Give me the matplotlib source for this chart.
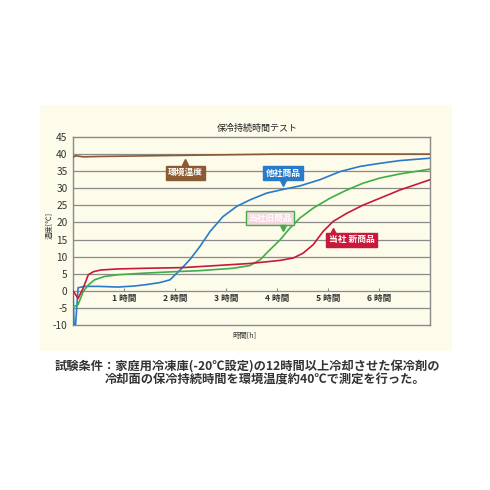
import matplotlib
matplotlib.use("Agg")
import matplotlib.pyplot as plt
from matplotlib.patches import Rectangle

plt.rcParams['font.family'] = ['Noto Sans CJK JP', 'DejaVu Sans']

# ---- data ----
title = "保冷持続時間テスト"
y_ticks = [-10, -5, 0, 5, 10, 15, 20, 25, 30, 35, 40, 45]
hour_ticks = [1, 2, 3, 4, 5, 6]
hour_labels = ["1 時間", "2 時間", "3 時間", "4 時間", "5 時間", "6 時間"]
xlabel = "時間[h]"
ylabel = "温度[℃]"

env_t = [0, 0.05, 0.2, 0.5, 1.0, 1.5, 2.0, 2.5, 3.0, 3.5, 4.0, 5.0, 6.0, 7.0]
env_v = [39.1, 39.5, 39.2, 39.3, 39.4, 39.5, 39.6, 39.7, 39.8, 39.9, 40.0, 40.0, 40.0, 40.0]

other_t = [0, 0.02, 0.05, 0.1, 0.23, 0.5, 0.88, 1.2, 1.43, 1.7, 1.9, 2.1, 2.29, 2.49, 2.69, 2.94, 3.21, 3.47, 3.8, 4.1,
           4.45, 4.84, 5.24, 5.63, 6.02, 6.41, 7.0]
other_v = [0, -10, -10, 0.9, 1.3, 1.3, 1.1, 1.4, 1.8, 2.4, 3.2, 6.1, 9.1, 13.0, 17.4, 21.7, 24.7, 26.6, 28.6, 29.6,
           30.7, 32.5, 34.9, 36.4, 37.3, 38.1, 38.8]

old_t = [0, 0.1, 0.2, 0.3, 0.42, 0.62, 0.88, 1.43, 2.0, 2.49, 3.14, 3.47, 3.67, 3.86, 4.06, 4.25, 4.45, 4.71, 5.04,
         5.37, 5.69, 6.02, 6.41, 7.0]
old_v = [-4.8, -4.0, -0.2, 1.7, 3.2, 4.2, 4.7, 5.2, 5.6, 5.9, 6.6, 7.4, 9.1, 12.0, 14.9, 18.3, 21.3, 24.2, 27.1,
         29.5, 31.5, 33.0, 34.2, 35.6]

new_t = [0, 0.1, 0.2, 0.3, 0.4, 0.55, 0.88, 1.43, 2.16, 2.82, 3.47, 3.8, 4.06, 4.32, 4.51, 4.71, 4.9, 5.1, 5.37,
         5.69, 6.02, 6.41, 7.0]
new_v = [0, -2.2, 0.8, 4.7, 5.6, 6.1, 6.4, 6.6, 6.8, 7.4, 8.0, 8.5, 8.9, 9.6, 11.0, 13.5, 17.3, 20.3, 22.7,
         25.1, 27.1, 29.5, 32.5]

labels = ["環境温度", "他社商品", "当社旧商品", "当社 新商品"]
label_pos = [(2.2, 34.5), (4.12, 34.5), (3.86, 21.3), (5.46, 14.9)]
pointer_pos = [(2.2, 37.6), (4.12, 31.6), (4.12, 18.5), (5.1, 17.6)]
pointer_mark = ['^', 'v', 'v', '^']

footnote1 = "試験条件：家庭用冷凍庫(-20℃設定)の12時間以上冷却させた保冷剤の"
footnote2 = "冷却面の保冷持続時間を環境温度約40℃で測定を行った。"

# ---- colors ----
cream = "#fdfbea"
c_env = "#8c5a32"
c_other = "#2a7ac8"
c_old = "#3fae45"
c_new = "#c8183c"
c_pink = "#f6d5de"

fig = plt.figure(figsize=(4.9, 4.9), dpi=100)
fig.patch.set_facecolor("white")
fig.patches.append(Rectangle((40/490, 1-351/490), 412/490, 246/490,
                             transform=fig.transFigure, facecolor=cream,
                             edgecolor="none", zorder=-5))

ax = fig.add_axes([73/490, 1-325/490, 357/490, 188/490])
ax.set_zorder(2)
ax.set_facecolor(cream)
ax.set_xlim(0, 7)
ax.set_ylim(-10, 45)
ax.set_yticks(y_ticks)
ax.set_yticklabels([str(v) for v in y_ticks], fontsize=7.3, color="#333333")
ax.tick_params(axis='y', length=0, pad=4)
ax.set_xticks([])
for s in ax.spines.values():
    s.set_color("#8a8a8a")
    s.set_linewidth(1.0)
for v in y_ticks[1:-1]:
    ax.axhline(v, color="#8a8a8a", lw=0.9, zorder=1)

for t, v, c in [(env_t, env_v, c_env), (other_t, other_v, c_other),
                (old_t, old_v, c_old), (new_t, new_v, c_new)]:
    ax.plot(t, v, color=c, lw=1.2, zorder=3, solid_joinstyle='round', solid_capstyle='round')

secax = ax.secondary_xaxis(10/55)
secax.set_xticks(hour_ticks)
secax.set_xticklabels(hour_labels, fontsize=6.2, fontweight='bold', color="#333333")
secax.tick_params(axis='x', direction='in', length=2.5, width=0.8, color="#8a8a8a", pad=2)
secax.spines['bottom'].set_visible(False)

ax.text(0.48, -0.035, xlabel, transform=ax.transAxes, ha='center', va='top', fontsize=5.3, color="#333333")
fig.text(50/490, 1-225/490, ylabel, rotation=90, ha='center', va='center', fontsize=5.3, color="#333333")
fig.text(257/490, 1-128/490, title, ha='center', va='center', fontsize=6.5, color="#222222")

styles = [
    dict(fc=c_env, ec=c_env, tc="white", pc=c_env),
    dict(fc=c_other, ec=c_other, tc="white", pc=c_other),
    dict(fc=c_pink, ec=c_old, tc="white", pc=c_old),
    dict(fc=c_new, ec=c_new, tc="white", pc=c_new),
]
for lab, (x, y), (px, py), m, st in zip(labels, label_pos, pointer_pos, pointer_mark, styles):
    ax.text(x, y, lab, ha='center', va='center', fontsize=6.3, fontweight='bold', color=st['tc'],
            bbox=dict(boxstyle='square,pad=0.25', fc=st['fc'], ec=st['ec'], lw=1.0), zorder=6)
    ax.plot([px], [py], marker=m, color=st['pc'], markersize=4, zorder=6, linestyle='none')

fig.text(55/490, 1-366/490, footnote1, ha='left', va='center', fontsize=8.8, fontweight='bold', color="#333333")
fig.text(105/490, 1-380/490, footnote2, ha='left', va='center', fontsize=8.8, fontweight='bold', color="#333333")

fig.savefig("out.png", dpi=100, facecolor="white")
